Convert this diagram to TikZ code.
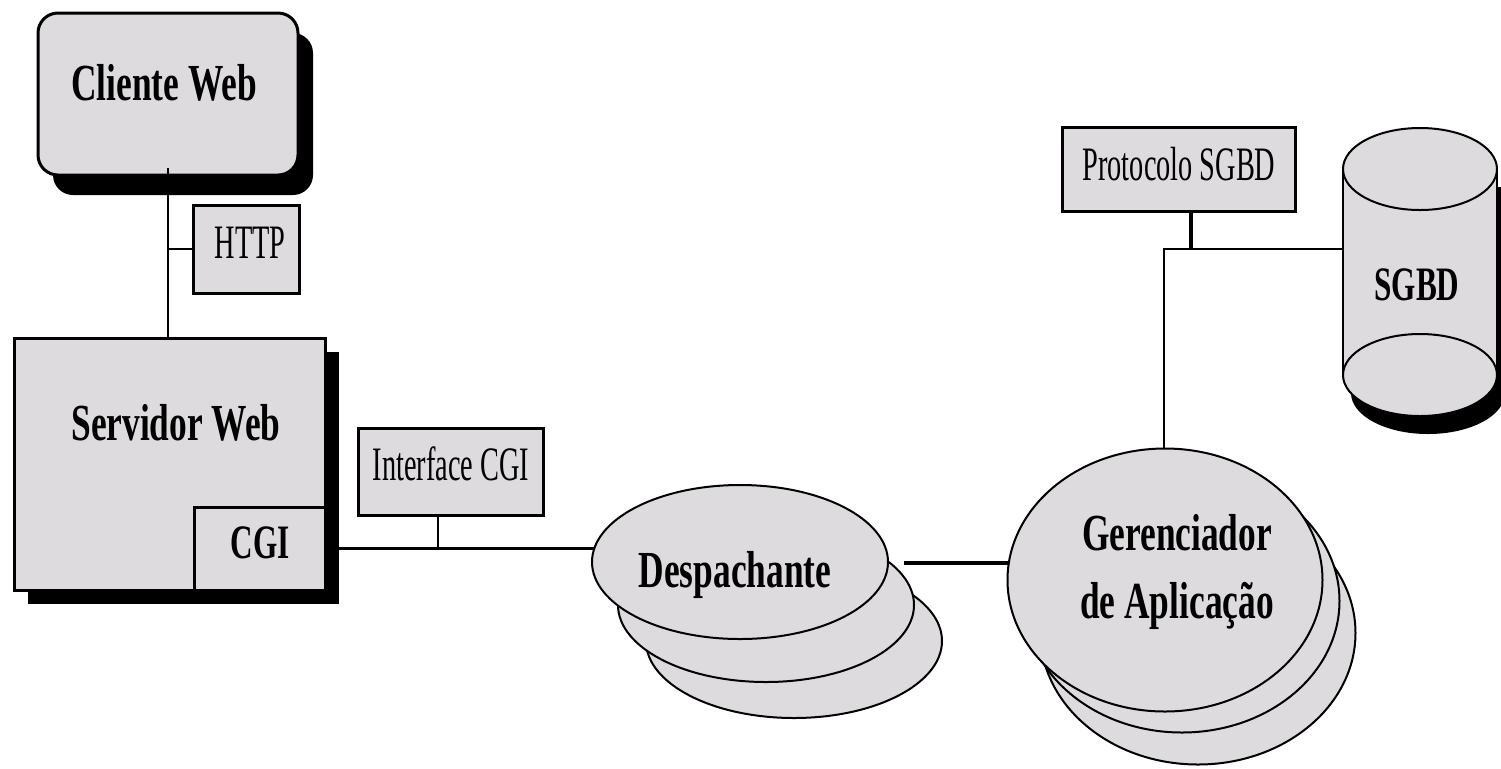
\documentclass[tikz,border=0pt]{standalone}
\usepackage{fontspec}
\newfontfamily\labelbold[FakeStretch=0.68]{Liberation Serif}
\newfontfamily\labelsmallbold[FakeStretch=0.65]{Liberation Serif}
\newfontfamily\labelplain[FakeStretch=0.59]{Liberation Serif}
\usetikzlibrary{shapes.geometric,backgrounds,calc}
\definecolor{boxgray}{RGB}{221,219,222}

\begin{document}
\begin{tikzpicture}[x=0.5pt, y=-0.5pt,
  box/.style={draw, line width=1.5pt, fill=boxgray, inner sep=0pt},
  shadowbox/.style={fill=black, draw=none, inner sep=0pt},
  disk/.style={ellipse, draw, line width=1pt, fill=boxgray, inner sep=0pt,
    minimum width=148pt, minimum height=77pt},
  bigdisk/.style={ellipse, draw, line width=1pt, fill=boxgray, inner sep=0pt,
    minimum width=157.5pt, minimum height=131.5pt},
  wire/.style={line width=1.8pt},
  midwire/.style={line width=1.3pt},
  thinwire/.style={line width=1pt},
  bigtxt/.style={font=\labelbold\bfseries\fontsize{26}{32}\selectfont, inner sep=0pt, anchor=base},
  smalltxt/.style={font=\labelsmallbold\bfseries\fontsize{24}{28}\selectfont, inner sep=0pt, anchor=base},
  plaintxt/.style={font=\labelplain\fontsize{24}{28}\selectfont, inner sep=0pt, anchor=base}]

\useasboundingbox (0,0) rectangle (1501,768);

% ---- web client ----
\node[shadowbox, rounded corners=10pt, minimum width=130pt, minimum height=81pt] (cw-sh) at (183,114) {};
\node[box, rounded corners=10pt, minimum width=130pt, minimum height=81pt] (cw) at (168,94) {};

% ---- web server with its CGI part ----
\node[shadowbox, minimum width=155.5pt, minimum height=126pt] (sw-sh) at (183.5,478) {};
\node[box, minimum width=155.5pt, minimum height=126pt] (sw) at (169.5,464) {};
\node[box, minimum width=65.5pt, minimum height=41.5pt] (cgi) at (259.5,548.5) {};

% ---- protocol tags ----
\node[box, minimum width=53pt, minimum height=44pt] (http) at (246,249) {};
\node[box, minimum width=92.5pt, minimum height=43.5pt] (icgi) at (450.5,471.5) {};
\node[box, minimum width=116.5pt, minimum height=42pt] (proto) at (1178.5,169) {};

% ---- dispatcher stack ----
\node[disk] (desp3) at (794,641) {};
\node[disk] (desp2) at (766,605) {};
\node[disk] (desp1) at (740,562) {};

% ---- application manager stack ----
\node[bigdisk] (ger3) at (1198,633) {};
\node[bigdisk] (ger2) at (1182,601) {};
\node[bigdisk] (ger1) at (1165,580) {};

% ---- database cylinder ----
\fill[black] (1351,187) rectangle (1505,393);
\fill[black] (1428,393) ellipse [x radius=77, y radius=41];
\fill[boxgray] (1343,169) rectangle (1497,375);
\fill[boxgray] (1420,375) ellipse [x radius=77, y radius=41];
\draw[thinwire, fill=boxgray] (1420,169) ellipse [x radius=77, y radius=41];
\draw[thinwire] (1420,375) ellipse [x radius=77, y radius=41];
\draw[thinwire] (1343,169) -- (1343,375);
\draw[thinwire] (1497,169) -- (1497,375);
\node[inner sep=0pt, minimum width=77pt, minimum height=103pt] (db) at (1420,272) {};

% ---- labels ----
\node[bigtxt] (cw-t) at (164,100) {Cliente Web};
\node[bigtxt] (sw-t) at (176,440) {Servidor Web};
\node[smalltxt] (cgi-t) at (260,558) {CGI};
\node[plaintxt] (http-t) at (250,258) {HTTP};
\node[plaintxt] (icgi-t) at (451,480) {Interface CGI};
\node[bigtxt] (desp-t) at (735,587) {Despachante};
\node[bigtxt] (ger-t1) at (1177,550) {Gerenciador};
\node[bigtxt] (ger-t2) at (1177,618) {de Aplicação};
\node[plaintxt] (proto-t) at (1179,180) {Protocolo SGBD};
\node[smalltxt] (db-t) at (1417,300) {SGBD};

% the client link starts a little inside the client box
\draw[thinwire] (cw.south) -- ++(0,-9);

% ---- connectors, behind the shapes ----
\begin{scope}[on background layer]
  \fill[white] (0,0) rectangle (1501,768);
  \draw[thinwire] (cw.center) -- (cw.center |- sw.north);
  \draw[midwire] (http.west) -- (http.west -| cw.center);
  \draw[wire] (cgi.center) -- (cgi.center -| desp1.center);
  \coordinate (icgi-tap) at ($(icgi.south)+(-13,0)$);
  \draw[thinwire] (icgi-tap) -- (icgi-tap |- cgi.center);
  \coordinate (dg) at ($(desp1.east)+(15,1)$);
  \draw[wire] (dg) -- (dg -| ger1.center);
  \coordinate (jn) at (1164,249);
  \draw[thinwire] (ger1.center -| jn) -- (jn) -- (jn -| db.west);
  \coordinate (ptap) at ($(proto.south)+(12.5,0)$);
  \draw[wire] (ptap) -- (ptap |- jn);
\end{scope}
\end{tikzpicture}
\end{document}
